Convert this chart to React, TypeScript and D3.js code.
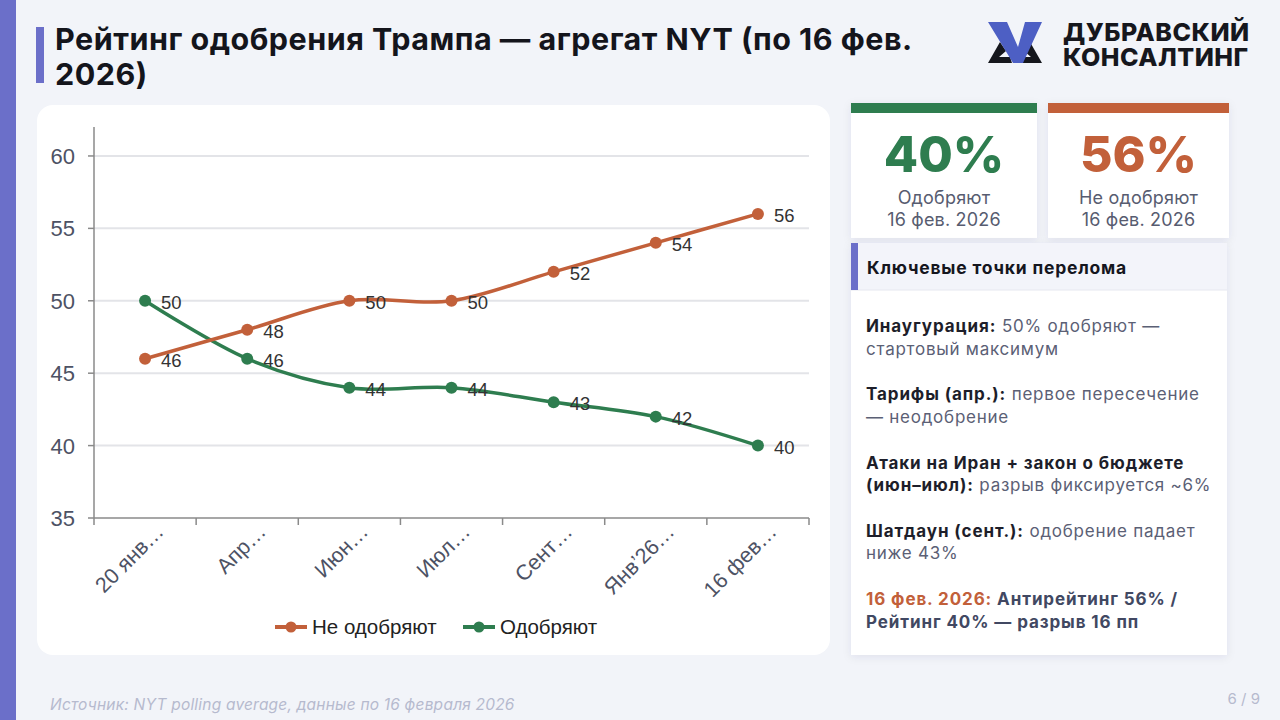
import * as d3 from 'd3';
import React from 'react';

// Chart data
const categories = ['20 янв…', 'Апр…', 'Июн…', 'Июл…', 'Сент…', 'Янв’26…', '16 фев…'];
const disapprove = [46, 48, 50, 50, 52, 54, 56];
const approve = [50, 46, 44, 44, 43, 42, 40];
const yTicks = [35, 40, 45, 50, 55, 60];
const yDomain = [35, 62];

const seriesNames = ['Не одобряют', 'Одобряют'];

// Right panel texts
const kpiValues = ['40%', '56%'];
const kpiLabels = ['Одобряют', 'Не одобряют'];
const kpiDate = '16 фев. 2026';

type Seg = [string, 'b' | 'r' | 'o' | 's'];
const notes: Seg[][][] = [
    [[['Инаугурация:', 'b'], [' 50% одобряют —', 'r']], [['стартовый максимум', 'r']]],
    [[['Тарифы (апр.):', 'b'], [' первое пересечение', 'r']], [['— неодобрение', 'r']]],
    [[['Атаки на Иран + закон о бюджете', 'b']], [['(июн–июл):', 'b'], [' разрыв фиксируется ~6%', 'r']]],
    [[['Шатдаун (сент.):', 'b'], [' одобрение падает', 'r']], [['ниже 43%', 'r']]],
    [[['16 фев. 2026:', 'o'], [' Антирейтинг 56% /', 's']], [['Рейтинг 40% — разрыв 16 пп', 's']]],
];

const ORANGE = '#c2603a';
const GREEN = '#2e7d4f';
const PURPLE = '#6b6fc9';
const UI = 'Inter, "Noto Sans", sans-serif';
const CHART_FONT = '"Liberation Sans", Arial, sans-serif';

const segStyle: Record<string, { fill: string; weight: number; ls: number }> = {
    b: { fill: '#1d1e2a', weight: 700, ls: 0.9 },
    r: { fill: '#5b6075', weight: 400, ls: 0.75 },
    o: { fill: ORANGE, weight: 700, ls: 0.9 },
    s: { fill: '#414862', weight: 700, ls: 0.9 },
};

const App = (): React.ReactElement => {
    // Scales
    const x = d3.scaleBand<string>().domain(categories).range([94, 809]);
    const y = d3.scaleLinear().domain(yDomain).range([518, 127]);
    const cx = (i: number) => (x(categories[i]) as number) + x.bandwidth() / 2;

    const line = d3
        .line<number>()
        .x((_, i) => cx(i))
        .y((d) => y(d))
        .curve(d3.curveCardinal.tension(0));

    const series = [
        { name: seriesNames[1], values: approve, color: GREEN },
        { name: seriesNames[0], values: disapprove, color: ORANGE },
    ];

    const boundaries = [...categories.map((c) => x(c) as number), 809];

    return (
        <div style={{ position: 'absolute', left: 0, top: 0 }}>
            <svg width={1280} height={720} style={{ display: 'block' }}>
                <defs>
                    <filter id="shadow" x="-10%" y="-10%" width="120%" height="130%">
                        <feDropShadow dx="0" dy="2" stdDeviation="4" floodColor="#1c2050" floodOpacity="0.08" />
                    </filter>
                </defs>
                <rect width={1280} height={720} fill="#f2f4f9" />
                <rect x={0} y={0} width={16} height={720} fill={PURPLE} />

                {/* Title */}
                <rect x={36} y={27} width={8} height={56} fill={PURPLE} />
                <text fontFamily={UI} fontWeight={700} fontSize={30.5} letterSpacing={0.5} fill="#14151c">
                    <tspan x={55} y={50}>Рейтинг одобрения Трампа — агрегат NYT (по 16 фев.</tspan>
                    <tspan x={55} y={85}>2026)</tspan>
                </text>

                {/* Logo */}
                <g>
                    <polygon points="988,63 1000,42 1006,51 999,57 1010,57 1012,63" fill="#16171d" />
                    <polygon points="1042,63 1030,42 1024,51 1031,57 1020,57 1022,63" fill="#16171d" />
                    <polygon points="988,22 1007,22 1018,47 1025,22 1042,22 1023,63 1013,63" fill="#4d5fc4" />
                    <text x={1063} y={41} fontFamily={UI} fontWeight={800} fontSize={25} letterSpacing={0.5} fill="#16171d">
                        ДУБРАВСКИЙ
                    </text>
                    <text x={1063} y={66} fontFamily={UI} fontWeight={800} fontSize={25} letterSpacing={0.5} fill="#16171d">
                        КОНСАЛТИНГ
                    </text>
                </g>

                {/* Chart card */}
                <rect x={37} y={105} width={793} height={550} rx={16} fill="#ffffff" />

                {/* Grid */}
                {yTicks
                    .filter((t) => t !== yDomain[0])
                    .map((t) => (
                        <line key={'g' + t} x1={94} x2={809} y1={y(t)} y2={y(t)} stroke="#e3e4e8" strokeWidth={2} />
                    ))}

                {/* Y axis */}
                <line x1={94} x2={94} y1={127} y2={518} stroke="#8a8a8a" strokeWidth={1.5} />
                {yTicks.map((t) => (
                    <g key={'y' + t}>
                        <line x1={88} x2={94} y1={y(t)} y2={y(t)} stroke="#8a8a8a" strokeWidth={1.5} />
                        <text
                            x={75}
                            y={y(t) + 8}
                            textAnchor="end"
                            fontFamily={CHART_FONT}
                            fontSize={22}
                            fill="#4d5264"
                        >
                            {t}
                        </text>
                    </g>
                ))}

                {/* X axis */}
                <line x1={94} x2={809} y1={518} y2={518} stroke="#8a8a8a" strokeWidth={1.5} />
                {boundaries.map((b, i) => (
                    <line key={'xt' + i} x1={b} x2={b} y1={518} y2={525} stroke="#8a8a8a" strokeWidth={1.5} />
                ))}
                {categories.map((c, i) => (
                    <text
                        key={'xl' + c}
                        transform={`translate(${cx(i) + 20},${533}) rotate(-45)`}
                        textAnchor="end"
                        fontFamily={CHART_FONT}
                        fontSize={21.5}
                        fill="#4d5264"
                    >
                        {c}
                    </text>
                ))}

                {/* Lines */}
                {series.map((s) => (
                    <g key={s.name}>
                        <path d={line(s.values) as string} fill="none" stroke={s.color} strokeWidth={3.5} />
                        {s.values.map((v, i) => (
                            <circle key={i} cx={cx(i)} cy={y(v)} r={6} fill={s.color} />
                        ))}
                        {s.values.map((v, i) => (
                            <text
                                key={'l' + i}
                                x={cx(i) + 16}
                                y={y(v) + 8}
                                fontFamily={CHART_FONT}
                                fontSize={18.5}
                                fill="#333333"
                            >
                                {v}
                            </text>
                        ))}
                    </g>
                ))}

                {/* Legend */}
                {[
                    { name: seriesNames[0], color: ORANGE, x0: 275 },
                    { name: seriesNames[1], color: GREEN, x0: 463 },
                ].map((l) => (
                    <g key={'lg' + l.name}>
                        <line x1={l.x0} x2={l.x0 + 32} y1={627} y2={627} stroke={l.color} strokeWidth={4} />
                        <circle cx={l.x0 + 16} cy={627} r={5.5} fill={l.color} />
                        <text x={l.x0 + 37} y={634} fontFamily={CHART_FONT} fontSize={20.5} fill="#222222">
                            {l.name}
                        </text>
                    </g>
                ))}

                {/* KPI cards */}
                {[
                    { x0: 851, w: 186, color: GREEN },
                    { x0: 1048, w: 181, color: ORANGE },
                ].map((k, i) => (
                    <g key={'k' + i}>
                        <rect x={k.x0} y={103} width={k.w} height={135} fill="#ffffff" filter="url(#shadow)" />
                        <rect x={k.x0} y={103} width={k.w} height={10} fill={k.color} />
                        <text
                            x={k.x0 + k.w / 2}
                            y={172}
                            textAnchor="middle"
                            fontFamily={UI}
                            fontWeight={800}
                            fontSize={50}
                            fill={k.color}
                        >
                            {kpiValues[i]}
                        </text>
                        <text textAnchor="middle" fontFamily={UI} fontSize={18} letterSpacing={0.2} fill="#575c70">
                            <tspan x={k.x0 + k.w / 2} y={204}>
                                {kpiLabels[i]}
                            </tspan>
                            <tspan x={k.x0 + k.w / 2} y={226}>
                                {kpiDate}
                            </tspan>
                        </text>
                    </g>
                ))}

                {/* Notes panel */}
                <rect x={851} y={243} width={376} height={412} fill="#ffffff" filter="url(#shadow)" />
                <rect x={851} y={243} width={376} height={47} fill="#f3f4fa" />
                <line x1={851} x2={1227} y1={290} y2={290} stroke="#e6e8f0" strokeWidth={1} />
                <rect x={851} y={243} width={7} height={47} fill={PURPLE} />
                <text x={867} y={274} fontFamily={UI} fontWeight={700} fontSize={17.5} letterSpacing={0.8} fill="#15161e">
                    Ключевые точки перелома
                </text>
                {notes.map((item, i) =>
                    item.map((ln, j) => (
                        <text key={`n${i}-${j}`} x={866} y={332 + i * 68.3 + j * 22.5} fontFamily={UI} fontSize={17}>
                            {ln.map((seg, k) => (
                                <tspan
                                    key={k}
                                    fill={segStyle[seg[1]].fill}
                                    fontWeight={segStyle[seg[1]].weight}
                                    letterSpacing={segStyle[seg[1]].ls}
                                    style={{ whiteSpace: 'pre' }}
                                >
                                    {seg[0]}
                                </tspan>
                            ))}
                        </text>
                    )),
                )}

                {/* Footer */}
                <text x={50} y={710} fontFamily={UI} fontStyle="italic" fontSize={15.5} letterSpacing={0.2} fill="#b6bace">
                    Источник: NYT polling average, данные по 16 февраля 2026
                </text>
                <text x={1260} y={704} textAnchor="end" fontFamily={UI} fontSize={15} fill="#b6bace">
                    6 / 9
                </text>
            </svg>
        </div>
    );
};

export default App;
